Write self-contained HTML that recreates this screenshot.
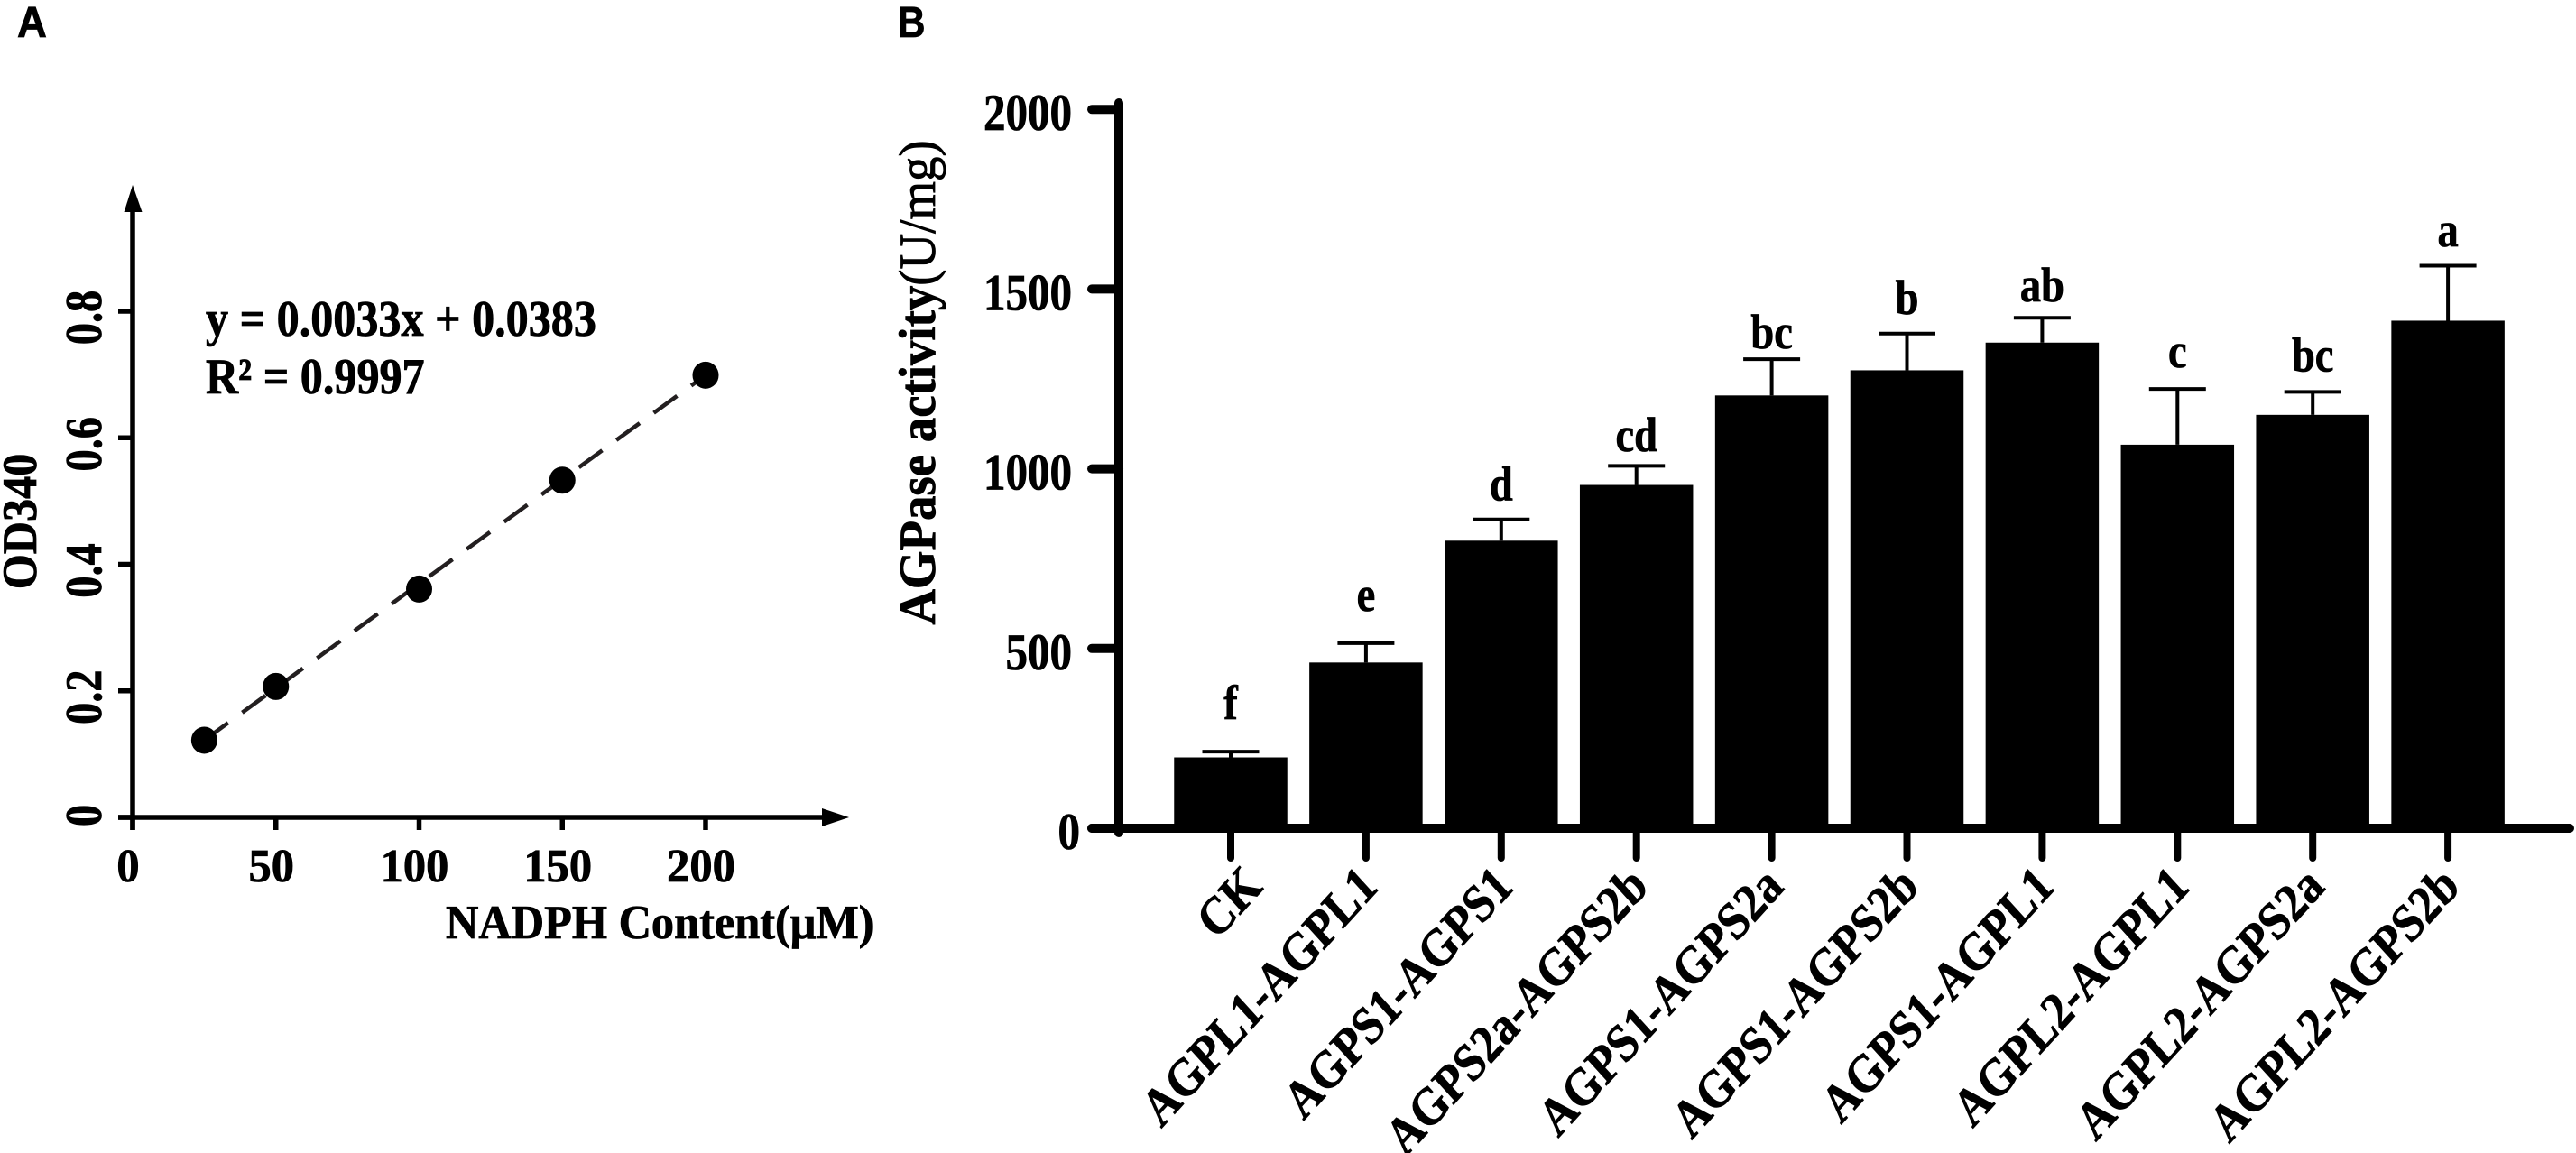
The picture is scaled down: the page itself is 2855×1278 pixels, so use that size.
<!DOCTYPE html>
<html lang="en">
<head>
<meta charset="utf-8">
<title>NADPH standard curve and AGPase activity</title>
<style>
html,body{margin:0;padding:0;background:#fff;width:2855px;height:1278px;overflow:hidden}
svg{display:block}
text{font-family:"Liberation Serif",serif;font-weight:bold;fill:#000;stroke:#000;stroke-width:.8px}
</style>
</head>
<body>
<svg id="fig" xmlns="http://www.w3.org/2000/svg" width="2855" height="1278" viewBox="0 0 2855 1278"></svg>
<script>
/* Panel A data */
const aXTicks = [0, 50, 100, 150, 200];
const aYTicks = [0, 0.2, 0.4, 0.6, 0.8];
const aYTickLabels = ['0', '0.2', '0.4', '0.6', '0.8'];
const aConcentration = [25, 50, 100, 150, 200];
const aAbsorbance = [0.122, 0.207, 0.361, 0.533, 0.699];

/* Panel B data */
const bCategories = ['CK', 'AGPL1-AGPL1', 'AGPS1-AGPS1', 'AGPS2a-AGPS2b', 'AGPS1-AGPS2a', 'AGPS1-AGPS2b', 'AGPS1-AGPL1', 'AGPL2-AGPL1', 'AGPL2-AGPS2a', 'AGPL2-AGPS2b'];
const bMeans = [197, 461, 800, 955, 1204, 1274, 1351, 1067, 1150, 1412];
const bErrors = [16, 54, 59, 53, 101, 102, 69, 155, 64, 153];
const bLetters = ['f', 'e', 'd', 'cd', 'bc', 'b', 'ab', 'c', 'bc', 'a'];
const bLetterLevels = [304, 605, 912, 1049, 1335, 1431, 1466, 1283, 1271, 1619];
const bYTicks = [0, 500, 1000, 1500, 2000];

const svg = document.getElementById('fig');
const NS = 'http://www.w3.org/2000/svg';

function mk(tag, attrs, parent) {
  const e = document.createElementNS(NS, tag);
  for (const k in attrs) e.setAttribute(k, attrs[k]);
  (parent || svg).appendChild(e);
  return e;
}
function txt(str, tx, ty, size, opts, parent) {
  const o = opts || {};
  const t = 'translate(' + tx + ',' + ty + ') ' + (o.pre || '') + ' scale(' + (o.sx || 1) + ',' + (o.sy || 1) + ')';
  const e = mk('text', {transform: t, 'font-size': size, 'text-anchor': o.anchor || 'start'}, parent);
  e.textContent = str;
  return e;
}
function line(x1, y1, x2, y2, w, parent, cap) {
  return mk('line', {x1: x1, y1: y1, x2: x2, y2: y2, stroke: '#000', 'stroke-width': w, 'stroke-linecap': cap || 'butt'}, parent);
}

/* ---------- Panel A ---------- */
const xA = v => 147 + v * 3.175;
const yA = v => 906 - v * 701.25;
const gA = mk('g', {});



let el = txt('A', 19, 41, 48, {sx: 0.95}, gA);
el.style.fontFamily = '"Liberation Sans",sans-serif';



el = line(147, 232, 147, 920, 5.5, gA);


el = line(131, 906, 914, 906, 5.5, gA);


el = mk('polygon', {points: '147,205 157.5,235 137.5,235', fill: '#000'}, gA);


el = mk('polygon', {points: '941,906 911,896 911,916', fill: '#000'}, gA);



aXTicks.forEach(function (v) {
  const t = line(xA(v), 906, xA(v), 920, 5.5, gA);
  
  
  const l = txt(String(v), xA(v) - 5, 977, 52, {anchor: 'middle', sx: 0.97}, gA);
  
  
});
aYTicks.forEach(function (v, i) {
  const t = line(131, yA(v), 147, yA(v), 5.5, gA);
  
  
  const off = v === 0 ? -2 : 7;
  const l = txt(aYTickLabels[i], 112, yA(v) + off, 57, {anchor: 'middle', pre: 'rotate(-90)', sx: 0.85}, gA);
  
  
});

el = txt('OD340', 40, 578, 54, {anchor: 'middle', pre: 'rotate(-90)', sx: 0.93}, gA);


el = txt('NADPH Content(μM)', 494, 1040, 53, {sx: 0.95}, gA);


el = txt('y = 0.0033x + 0.0383', 228, 372, 56, {sx: 0.895}, gA);


el = txt('R² = 0.9997', 228, 436, 56, {sx: 0.895}, gA);



const nA = aConcentration.length - 1;
el = mk('line', {x1: xA(aConcentration[0]), y1: yA(aAbsorbance[0]), x2: xA(aConcentration[nA]), y2: yA(aAbsorbance[nA]), stroke: '#231f20', 'stroke-width': 4.5, 'stroke-dasharray': '32 19.3', 'stroke-dashoffset': 50.6}, gA);


aConcentration.forEach(function (c, i) {
  const p = mk('ellipse', {cx: xA(c), cy: yA(aAbsorbance[i]), rx: 14.5, ry: 15, fill: '#000'}, gA);
  
  
});

/* ---------- Panel B ---------- */
const xB = i => 1364 + i * 149.9;
const yB = v => 918 - v * 0.3984;
const gB = mk('g', {});



el = txt('B', 995, 41, 48, {sx: 0.88}, gB);
el.style.fontFamily = '"Liberation Sans",sans-serif';



const BAR_W = 125.5;
bCategories.forEach(function (c, i) {
  const top = yB(bMeans[i]);
  const bar = mk('rect', {x: xB(i) - BAR_W / 2, y: top, width: BAR_W, height: yB(0) - top, fill: '#000'}, gB);
  
  
  const cap = yB(bMeans[i] + bErrors[i]);
  const stem = line(xB(i), top, xB(i), cap, 4, gB);
  
  
  const capLine = line(xB(i) - 31.5, cap, xB(i) + 31.5, cap, 4, gB);
  
  
  const sig = txt(bLetters[i], xB(i), yB(bLetterLevels[i]), 54, {anchor: 'middle', sx: 0.86}, gB);
  
  
  const tick = line(xB(i), 918, xB(i), 951, 8, gB, 'round');
  
  
  const dx = i === 0 ? 37 : 15;
  const lab = txt(c, xB(i) + dx, 985, 54, {anchor: 'end', pre: 'scale(1,1.1) rotate(-45)', sx: 0.92}, gB);
  
  
});

el = line(1240, 114, 1240, 923, 10, gB, 'round');


el = line(1210, 918, 2848, 918, 10, gB, 'round');



bYTicks.forEach(function (v) {
  const t = line(1210, yB(v), 1240, yB(v), 10, gB, 'round');
  
  
  const l = txt(String(v), v === 0 ? 1197 : 1188, yB(v) + 23, 57, {anchor: 'end', sx: 0.86}, gB);
  
  
});

el = mk('text', {transform: 'translate(1036,424) rotate(-90) scale(.962,1)', 'font-size': 57, 'text-anchor': 'middle'}, gB);


el.appendChild(document.createTextNode('AGPase activity'));
const unit = mk('tspan', {'font-weight': 'normal'}, el);
unit.textContent = '(U/mg)';
</script>
</body>
</html>
